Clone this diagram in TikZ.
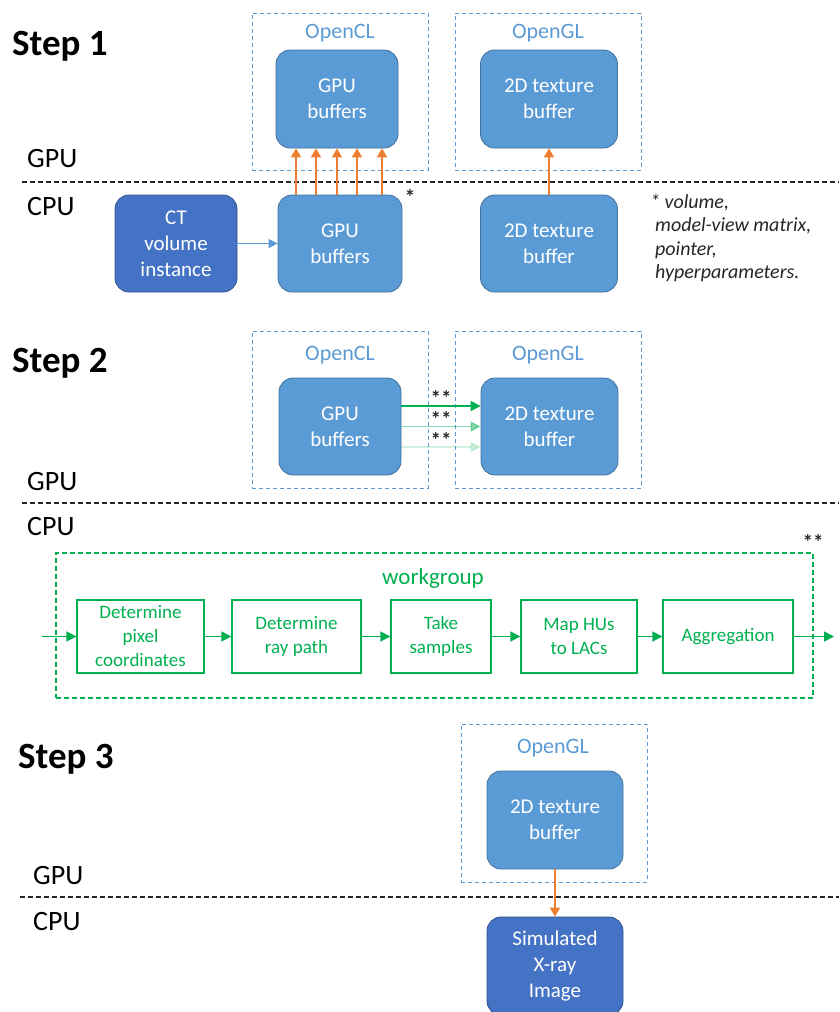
\documentclass[tikz,border=0pt]{standalone}
\usepackage{fontspec}
\setmainfont{Carlito}
\usetikzlibrary{arrows.meta}

\definecolor{boxblue}{HTML}{5B9BD5}
\definecolor{boxedge}{HTML}{41719C}
\definecolor{darkblue}{HTML}{4472C4}
\definecolor{darkedge}{HTML}{2F528F}
\definecolor{flowor}{HTML}{ED7D31}
\definecolor{flowgr}{HTML}{00B050}
\definecolor{notegray}{HTML}{262626}

\tikzset{
  buf/.style={draw=boxedge, fill=boxblue, line width=0.8pt, rounded corners=14pt,
    text=white, align=center, inner sep=0pt, font=\fontsize{21}{26}\selectfont},
  hostbuf/.style={buf, draw=darkedge, fill=darkblue},
  apibox/.style={draw=boxblue, line width=1pt, dash pattern=on 4pt off 3pt, inner sep=0pt},
  apilabel/.style={text=boxblue, inner sep=0pt, font=\fontsize{22}{26}\selectfont},
  stage/.style={draw=flowgr, line width=1.3pt, text=flowgr, align=center, inner sep=0pt,
    font=\fontsize{19}{24}\selectfont},
  wgbox/.style={draw=flowgr, line width=1.2pt, dash pattern=on 5pt off 3pt, inner sep=0pt},
  steplabel/.style={anchor=base west, inner sep=0pt, font=\bfseries\fontsize{37}{44}\selectfont},
  unitlabel/.style={anchor=base west, inner sep=0pt, font=\fontsize{28}{32}\selectfont},
  divider/.style={draw=black!85, line width=1.3pt, dash pattern=on 5pt off 3pt},
  upload/.style={draw=flowor, line width=1.8pt, -{Triangle[length=9pt,width=10pt]}},
  feed/.style={draw=boxblue, line width=1.6pt, -{Triangle[length=9pt,width=9pt]}},
  gflow/.style={draw=flowgr, line width=1.6pt, -{Triangle[length=10pt,width=10pt]}},
  star/.style={inner sep=0pt, text=notegray, font=\bfseries\fontsize{21}{21}\selectfont},
}

\begin{document}
\begin{tikzpicture}[x=1pt, y=-1pt]
\useasboundingbox (0,0) rectangle (839,1012);

% ---------------- Step 1: upload ----------------
\node[steplabel] (s1) at (12,55) {Step 1};
\node[unitlabel] (gpu1) at (27,167) {GPU};
\node[unitlabel] (cpu1) at (27,215) {CPU};
\coordinate (d1a) at (22,182);
\coordinate (d1b) at (839,182);
\draw[divider] (d1a) -- (d1b);

\node[apibox, minimum width=176pt, minimum height=157pt] (ocl1) at (340,91.5) {};
\node[apilabel] (ocl1t) at (340,33) {OpenCL};
\node[apibox, minimum width=186pt, minimum height=157pt] (ogl1) at (548,91.5) {};
\node[apilabel] (ogl1t) at (548,33) {OpenGL};

\node[buf, minimum width=122pt, minimum height=98pt] (gpuTop) at (337,99) {GPU\\buffers};
\node[buf, minimum width=137pt, minimum height=98pt] (texTop) at (549,99) {2D texture\\buffer};
\node[buf, minimum width=124pt, minimum height=97pt] (gpuLow) at (340,243.5) {GPU\\buffers};
\node[buf, minimum width=137pt, minimum height=97pt] (texLow) at (549,243.5) {2D texture\\buffer};
\node[hostbuf, minimum width=122pt, minimum height=97pt] (ct) at (176,243.5) {CT\\volume\\instance};

\draw[feed] (ct) -- (gpuLow);
\foreach \dx in {-44,-24,-3,17,42}
  \draw[upload] ([xshift=\dx pt]gpuLow.north) -- ([xshift=\dx pt]gpuLow.north |- gpuTop.south);
\draw[upload] (texLow.north) -- (texTop.south);

\node[star] (st1) at (410,197) {*};
\node[anchor=north west, align=left, inner sep=0pt, text=notegray,
      font=\itshape\fontsize{20}{23.5}\selectfont] (note) at (650,194)
  {* volume,\\\hspace*{5pt}model-view matrix,\\\hspace*{5pt}pointer,\\\hspace*{5pt}hyperparameters.};

% ---------------- Step 2: render ----------------
\node[steplabel] (s2) at (12,372) {Step 2};
\node[unitlabel] (gpu2l) at (27,490) {GPU};
\node[unitlabel] (cpu2l) at (27,535) {CPU};
\coordinate (d2a) at (22,503);
\coordinate (d2b) at (839,503);
\draw[divider] (d2a) -- (d2b);

\node[apibox, minimum width=176pt, minimum height=157pt] (ocl2) at (340,409.5) {};
\node[apilabel] (ocl2t) at (340,355) {OpenCL};
\node[apibox, minimum width=186pt, minimum height=157pt] (ogl2) at (548,409.5) {};
\node[apilabel] (ogl2t) at (548,355) {OpenGL};

\node[buf, minimum width=122pt, minimum height=97pt] (gpu2) at (340,426.5) {GPU\\buffers};
\node[buf, minimum width=137pt, minimum height=97pt] (tex2) at (549.5,426.5) {2D texture\\buffer};

\draw[gflow] ([yshift=20.5pt]gpu2.east) -- ([yshift=20.5pt]gpu2.east -| tex2.west);
\draw[gflow, opacity=0.45] ([yshift=0pt]gpu2.east) -- ([yshift=0pt]gpu2.east -| tex2.west);
\draw[gflow, opacity=0.18] ([yshift=-20.5pt]gpu2.east) -- ([yshift=-20.5pt]gpu2.east -| tex2.west);
\node[star] (ss1) at (441,398) {**};
\node[star] (ss2) at (441,418.5) {**};
\node[star] (ss3) at (441,440) {**};

% workgroup pipeline
\node[wgbox, minimum width=757pt, minimum height=145pt] (wg) at (434.5,625.5) {};
\node[text=flowgr, inner sep=0pt, font=\fontsize{23}{26}\selectfont] (wgt) at (433,578) {workgroup};
\node[star] (ss4) at (813,542) {**};

\node[stage, minimum width=127pt, minimum height=73pt] (b1) at (140.5,636.5) {Determine\\pixel\\coordinates};
\node[stage, minimum width=129pt, minimum height=73pt] (b2) at (296.5,636.5) {Determine\\ray path};
\node[stage, minimum width=100pt, minimum height=73pt] (b3) at (441,636.5) {Take\\samples};
\node[stage, minimum width=116pt, minimum height=73pt] (b4) at (579,636.5) {Map HUs\\to LACs};
\node[stage, minimum width=130pt, minimum height=73pt] (b5) at (728,636.5) {Aggregation};
\coordinate (win) at (42,636.5);
\coordinate (wout) at (834,636.5);
\draw[gflow] (win) -- (b1);
\draw[gflow] (b1) -- (b2);
\draw[gflow] (b2) -- (b3);
\draw[gflow] (b3) -- (b4);
\draw[gflow] (b4) -- (b5);
\draw[gflow] (b5) -- (wout);

% ---------------- Step 3: read back ----------------
\node[steplabel] (s3) at (18,768) {Step 3};
\node[unitlabel] (gpu3l) at (33,884) {GPU};
\node[unitlabel] (cpu3l) at (33,930) {CPU};
\coordinate (d3a) at (20,897);
\coordinate (d3b) at (839,897);
\draw[divider] (d3a) -- (d3b);

\node[apibox, minimum width=186pt, minimum height=158pt] (ogl3) at (554,803) {};
\node[apilabel] (ogl3t) at (553,748) {OpenGL};
\node[buf, minimum width=136pt, minimum height=98pt] (tex3) at (555,820) {2D texture\\buffer};
\node[hostbuf, minimum width=136pt, minimum height=98pt] (sim) at (555,966) {Simulated\\X-ray\\Image};
\draw[upload] (tex3) -- (sim);
\end{tikzpicture}
\end{document}
